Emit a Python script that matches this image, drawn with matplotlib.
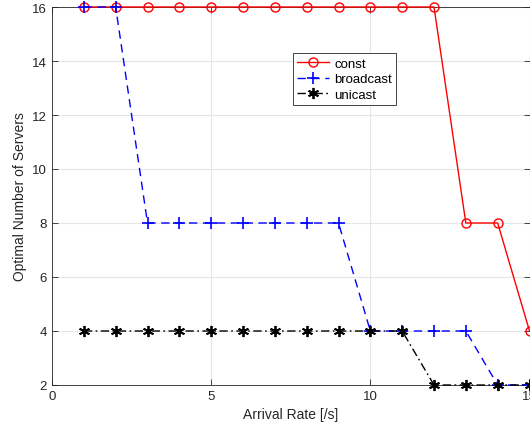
import matplotlib
matplotlib.use("Agg")
import matplotlib.pyplot as plt

x = list(range(1, 16))
const = [16, 16, 16, 16, 16, 16, 16, 16, 16, 16, 16, 16, 8, 8, 4]
broadcast = [16, 16, 8, 8, 8, 8, 8, 8, 8, 4, 4, 4, 4, 2, 2]
unicast = [4, 4, 4, 4, 4, 4, 4, 4, 4, 4, 4, 2, 2, 2, 2]

plt.rcParams['font.family'] = ['Liberation Sans', 'DejaVu Sans']

fig = plt.figure(figsize=(5.3, 4.39), dpi=100)
ax = fig.add_axes([52/530, 1-386/439, 477.5/530, 378/439])

ax.plot(x, const, color='#ff0000', marker='o', markersize=6.5, markerfacecolor='none',
        linewidth=1, linestyle='-', label='const', clip_on=False, zorder=3)
ax.plot(x, broadcast, color='#0000ff', marker='+', markersize=8, markeredgewidth=1.2,
        linewidth=1, linestyle=(0, (6, 4)), label='broadcast', clip_on=False, zorder=3)
ax.plot(x, unicast, color='#000000', marker=(6, 2, 0), markersize=8, markeredgewidth=1.3,
        linewidth=1, linestyle=(0, (6, 2.5, 1.2, 2.5)), label='unicast', clip_on=False, zorder=3)

ax.set_xlim(0, 15)
ax.set_ylim(2, 16)
ax.set_xticks([0, 5, 10, 15])
ax.set_yticks([2, 4, 6, 8, 10, 12, 14, 16])
ax.grid(True, color='#e6e6e6', linewidth=0.8)
ax.set_axisbelow(True)
ax.tick_params(direction='in', top=True, right=True, labelsize=9.5, colors='#262626',
               length=4, width=0.6)
for s in ax.spines.values():
    s.set_color('#262626')
    s.set_linewidth(0.6)
ax.set_xlabel('Arrival Rate [/s]', fontsize=10, color='#262626')
ax.set_ylabel('Optimal Number of Servers', fontsize=10, color='#262626')

leg = ax.legend(loc='upper left', bbox_to_anchor=(0.505, 0.877), fontsize=9.5,
                frameon=True, fancybox=False, edgecolor='#262626', framealpha=1,
                borderpad=0.3, labelspacing=0.25, handlelength=2.4, handletextpad=0.4,
                borderaxespad=0)
leg.get_frame().set_linewidth(0.6)

fig.savefig('out.png', dpi=100)
